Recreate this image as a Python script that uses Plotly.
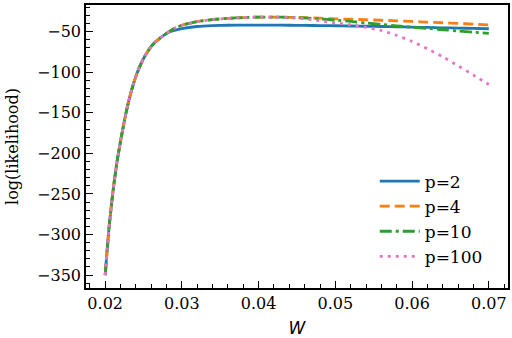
import plotly.graph_objects as go

W = [0.020, 0.0205, 0.021, 0.0215, 0.022, 0.0225, 0.023, 0.0235, 0.024, 0.0245,
     0.025, 0.0255, 0.026, 0.0265, 0.027, 0.028, 0.029, 0.030, 0.032, 0.034,
     0.036, 0.038, 0.040, 0.042, 0.044, 0.046, 0.048, 0.050, 0.052, 0.054,
     0.056, 0.058, 0.060, 0.062, 0.064, 0.066, 0.068, 0.070]

shared = [-350, -292, -248, -213, -185, -160, -138, -120, -105, -93,
          -83, -75, -68, -63, -59, -52]

p2 = shared + [-48.5, -46, -43.5, -42.5, -42, -41.8, -41.8, -41.8, -42, -42.2,
               -42.4, -42.6, -42.9, -43.2, -43.5, -43.9, -44.3, -44.7, -45.1,
               -45.5, -45.9, -46.3]
p4 = shared + [-46, -42, -37.5, -35, -33.5, -32.5, -32, -32, -32.2, -32.7,
               -33.3, -34, -34.6, -35.2, -35.8, -36.5, -37.3, -38.1, -38.9,
               -39.7, -40.5, -41.5]
p10 = shared + [-46, -42, -37.5, -35, -33.5, -32.5, -32, -32, -32.2, -33,
                -34.2, -35.6, -37.3, -39.2, -41, -42.8, -44.5, -46, -47.5,
                -49, -50.5, -52]
p100 = shared + [-46, -42, -37.5, -35, -33.5, -32.5, -32, -32, -32.5, -34,
                 -36.5, -39, -41.5, -44.5, -48.5, -54.5, -62, -71, -81,
                 -92, -103.5, -115]

names = ["p=2", "p=4", "p=10", "p=100"]
series = [p2, p4, p10, p100]
colors = ["#1f77b4", "#ff7f0e", "#2ca02c", "#e377c2"]
dashes = ["solid", "10px,5px", "12px,4px,3px,4px", "3px,5px"]

fig = go.Figure()
for n, s, c, d in zip(names, series, colors, dashes):
    fig.add_trace(go.Scatter(x=W, y=s, mode="lines", name=n,
                             line=dict(color=c, width=2.8, dash=d, shape="spline", smoothing=0.6)))

serif = "DejaVu Serif"
axis_common = dict(showline=True, mirror=True, linecolor="black", linewidth=1.5,
                   ticks="inside", ticklen=7, tickwidth=1.2, tickcolor="black",
                   showgrid=False, zeroline=False, automargin=False,
                   tickfont=dict(family=serif, size=16, color="black"))

fig.update_xaxes(range=[0.0175, 0.0725], tickvals=[0.02, 0.03, 0.04, 0.05, 0.06, 0.07],
                 ticktext=["0.02", "0.03", "0.04", "0.05", "0.06", "0.07"],
                 minor=dict(ticks="inside", ticklen=4, tickwidth=1, tickcolor="black", dtick=0.002,
                            tick0=0.02, showgrid=False),
                 title=dict(text="<i>W</i>", font=dict(family="DejaVu Sans", size=17, color="black"), standoff=10),
                 **axis_common)
fig.update_yaxes(range=[-366, -17], tickvals=[-350, -300, -250, -200, -150, -100, -50],
                 ticktext=["\u2212350", "\u2212300", "\u2212250", "\u2212200", "\u2212150", "\u2212100", "\u221250"],
                 minor=dict(ticks="inside", ticklen=4, tickwidth=1, tickcolor="black", dtick=10,
                            tick0=-350, showgrid=False),
                 title=dict(text="log(likelihood)", font=dict(family=serif, size=16, color="black"), standoff=14),
                 **axis_common)

fig.update_layout(width=512, height=338, margin=dict(l=86, r=4, t=5, b=50),
                  plot_bgcolor="white", paper_bgcolor="white",
                  legend=dict(x=0.952, y=0.44, xanchor="right", yanchor="top",
                              bgcolor="rgba(0,0,0,0)", font=dict(family=serif, size=17, color="black"),
                              tracegroupgap=0, itemwidth=40),
                  showlegend=True)

fig.write_html("out.html", config={"displayModeBar": False},
               post_script="document.body.style.margin='0';document.body.style.padding='0';")
